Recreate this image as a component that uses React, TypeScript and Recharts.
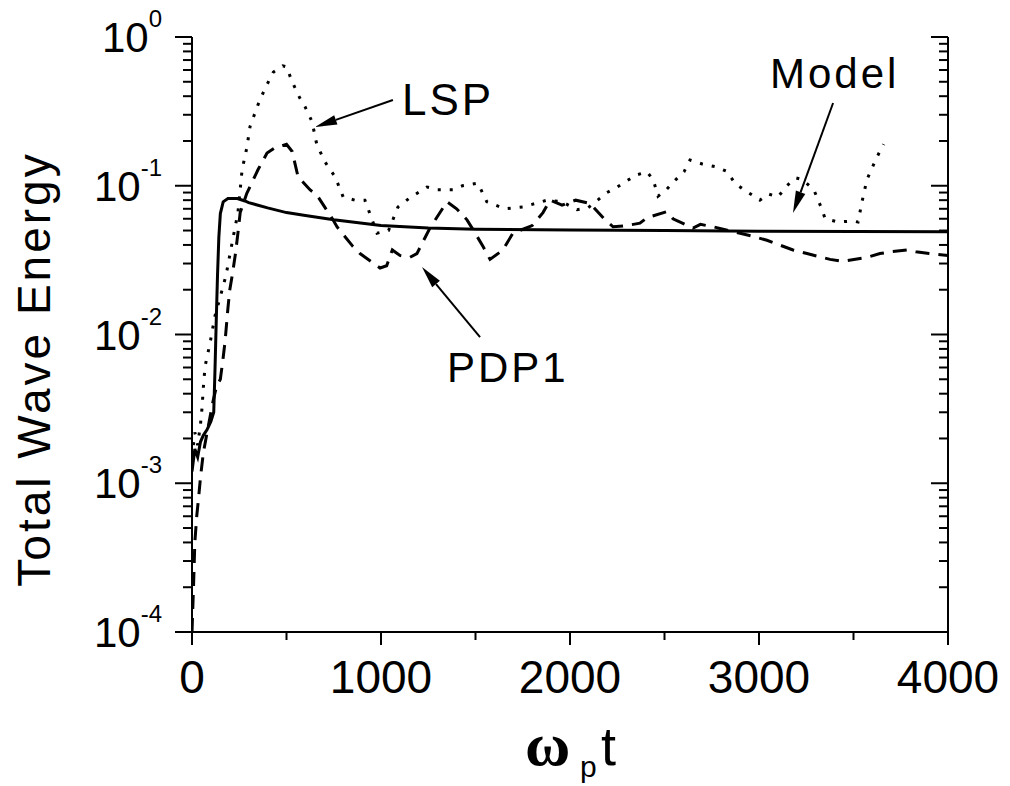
import { LineChart, Line, XAxis, YAxis, ReferenceLine, ReferenceDot } from "recharts";

const FONT = "Liberation Sans, Arial, sans-serif";
const INK = "#000";

// Model (solid)
const T_MODEL = [0, 15, 30, 45, 60, 80, 100, 115, 122, 128, 135, 142, 150, 165, 190, 240, 280, 300, 400, 500, 600, 750, 1000, 1250, 1500, 2000, 2500, 3000, 4000];
const E_MODEL = [1.2e-3, 1.7e-3, 1.5e-3, 1.9e-3, 2.1e-3, 2.3e-3, 2.6e-3, 3.0e-3, 6e-3, 0.012, 0.025, 0.045, 0.065, 0.078, 0.082, 0.082, 0.079, 0.077, 0.071, 0.066, 0.063, 0.059, 0.054, 0.052, 0.051, 0.0505, 0.05, 0.0495, 0.049];

// PDP1 (dashed)
const T_PDP1 = [0, 8, 15, 25, 35, 45, 60, 80, 110, 130, 150, 165, 175, 190, 200, 215, 230, 243, 255, 290, 349, 397, 439, 500, 530, 561, 624, 660, 746, 767, 852, 889, 995, 1030, 1060, 1100, 1153, 1190, 1259, 1349, 1400, 1455, 1490, 1540, 1577, 1645, 1698, 1800, 1857, 1894, 1958, 2030, 2106, 2180, 2228, 2300, 2370, 2407, 2513, 2545, 2651, 2690, 2756, 2810, 2960, 3042, 3180, 3254, 3376, 3444, 3571, 3640, 3700, 3783, 3830, 3900, 4000];
const E_PDP1 = [1.0e-4, 2e-4, 4e-4, 6e-4, 8e-4, 1.1e-3, 1.6e-3, 2.2e-3, 3.5e-3, 4.5e-3, 5e-3, 7e-3, 9e-3, 0.015, 0.02, 0.026, 0.035, 0.048, 0.066, 0.089, 0.128, 0.166, 0.18, 0.19, 0.17, 0.115, 0.094, 0.087, 0.059, 0.053, 0.039, 0.035, 0.028, 0.029, 0.037, 0.034, 0.033, 0.035, 0.052, 0.078, 0.07, 0.059, 0.05, 0.039, 0.032, 0.037, 0.048, 0.054, 0.066, 0.08, 0.074, 0.08, 0.076, 0.06, 0.053, 0.054, 0.056, 0.061, 0.067, 0.06, 0.052, 0.055, 0.053, 0.051, 0.046, 0.043, 0.037, 0.035, 0.032, 0.031, 0.033, 0.035, 0.036, 0.037, 0.036, 0.035, 0.034];

// LSP (dotted)
const T_LSP = [0, 15, 30, 45, 53, 60, 69, 95, 122, 150, 180, 210, 243, 265, 290, 307, 349, 386, 430, 480, 500, 530, 570, 598, 635, 660, 703, 757, 800, 862, 915, 979, 1040, 1090, 1153, 1243, 1300, 1380, 1430, 1513, 1560, 1656, 1751, 1878, 1958, 2037, 2095, 2196, 2250, 2349, 2407, 2440, 2466, 2513, 2560, 2603, 2635, 2700, 2772, 2830, 2873, 2920, 2980, 3005, 3050, 3100, 3148, 3195, 3230, 3290, 3330, 3350, 3418, 3497, 3524, 3545, 3571, 3624, 3660];
const E_LSP = [1.5e-3, 2.2e-3, 1.8e-3, 2.5e-3, 3.2e-3, 4.4e-3, 6.1e-3, 8.7e-3, 0.0134, 0.018, 0.025, 0.04, 0.066, 0.128, 0.18, 0.25, 0.35, 0.45, 0.58, 0.64, 0.63, 0.5, 0.39, 0.34, 0.27, 0.19, 0.145, 0.115, 0.084, 0.08, 0.08, 0.048, 0.05, 0.072, 0.083, 0.098, 0.094, 0.094, 0.1, 0.104, 0.078, 0.07, 0.072, 0.08, 0.078, 0.069, 0.071, 0.09, 0.098, 0.118, 0.124, 0.11, 0.085, 0.095, 0.11, 0.124, 0.149, 0.14, 0.134, 0.125, 0.104, 0.094, 0.084, 0.08, 0.088, 0.084, 0.1, 0.113, 0.11, 0.094, 0.071, 0.06, 0.057, 0.058, 0.057, 0.078, 0.11, 0.156, 0.19];

const X_TICKS = [0, 500, 1000, 1500, 2000, 2500, 3000, 3500, 4000];
const Y_MAJOR = [1e-4, 1e-3, 1e-2, 1e-1, 1];
const Y_MINOR = [2, 3, 4, 5, 6, 7, 8, 9].flatMap((m) => [1e-4, 1e-3, 1e-2, 1e-1].map((d) => m * d));
const Y_TICKS = [...Y_MAJOR, ...Y_MINOR].sort((a, b) => a - b);

const toRows = (ts: number[], es: number[]) => ts.map((t, i) => ({ t, e: es[i] }));
const modelData = toRows(T_MODEL, E_MODEL);
const pdp1Data = toRows(T_PDP1, E_PDP1);
const lspData = toRows(T_LSP, E_LSP);

function decade(v: number) {
  const l = Math.log10(v);
  const n = Math.round(l);
  return { n, major: Math.abs(l - n) < 1e-6 };
}

function LeftTick(props: any) {
  const { x, y, payload } = props;
  const { n, major } = decade(payload.value);
  return (
    <g>
      <line x1={x - (major ? 17 : 9)} y1={y} x2={x} y2={y} stroke={INK} strokeWidth={2} />
      {major && (
        <text x={x - 30} y={y} textAnchor="end" fontFamily={FONT} fill={INK}>
          <tspan fontSize={42} dy={15}>10</tspan>
          <tspan fontSize={24} dy={-25}>{String(n)}</tspan>
        </text>
      )}
    </g>
  );
}

function RightTick(props: any) {
  const { x, y, payload } = props;
  const { major } = decade(payload.value);
  return <line x1={x - (major ? 17 : 9)} y1={y} x2={x} y2={y} stroke={INK} strokeWidth={2} />;
}

function BottomTick(props: any) {
  const { x, y, payload } = props;
  const major = payload.value % 1000 === 0;
  return (
    <g>
      <line x1={x} y1={y} x2={x} y2={y + (major ? 13 : 8)} stroke={INK} strokeWidth={2} />
      {major && (
        <text x={x} y={y + 61} textAnchor="middle" fontFamily={FONT} fontSize={46} fill={INK}>
          {payload.value}
        </text>
      )}
    </g>
  );
}

function Arrow(props: any) {
  const { x1, y1, x2, y2 } = props;
  const a = Math.atan2(y2 - y1, x2 - x1);
  const L = 22, W = 5;
  const bx = x2 - L * Math.cos(a), by = y2 - L * Math.sin(a);
  const px = -Math.sin(a) * W, py = Math.cos(a) * W;
  return (
    <g>
      <line x1={x1} y1={y1} x2={bx} y2={by} stroke={INK} strokeWidth={2} />
      <polygon points={`${x2},${y2} ${bx + px},${by + py} ${bx - px},${by - py}`} fill={INK} />
    </g>
  );
}

const note = (txt: string, size: number) => (p: any) => (
  <text x={p.cx} y={p.cy} fontFamily={FONT} fontSize={size} letterSpacing={3} fill={INK}>
    {txt}
  </text>
);

const xLabel = () => (
  <g fill={INK}>
    <text x={525} y={765} fontFamily="Liberation Serif, Times New Roman, serif" fontWeight="bold" fontSize={62}>ω</text>
    <text x={580} y={777} fontFamily={FONT} fontSize={30}>p</text>
    <text x={601} y={765} fontFamily={FONT} fontSize={54}>t</text>
  </g>
);

const yLabel = () => (
  <text x={50} y={369} transform="rotate(-90 50 369)" textAnchor="middle" fontFamily={FONT} fontSize={46} letterSpacing={3} fill={INK}>
    Total Wave Energy
  </text>
);

export default function App() {
  return (
    <div style={{ position: "absolute", left: 0, top: 0, width: 1010, height: 786, background: "#fff" }}>
      <LineChart width={1010} height={786} margin={{ top: 37, right: 52, bottom: 54, left: 0 }}>
        <XAxis
          dataKey="t"
          type="number"
          domain={[0, 4000]}
          ticks={X_TICKS}
          interval={0}
          height={100}
          tickSize={0}
          tickMargin={0}
          tickLine={false}
          tick={BottomTick}
          axisLine={{ stroke: INK, strokeWidth: 2 }}
          allowDataOverflow
          label={{ content: xLabel }}
        />
        <YAxis
          type="number"
          scale="log"
          domain={[1e-4, 1]}
          ticks={Y_TICKS}
          interval={0}
          width={192}
          tickSize={0}
          tickMargin={0}
          tickLine={false}
          tick={LeftTick}
          axisLine={{ stroke: INK, strokeWidth: 2 }}
          allowDataOverflow
          label={{ content: yLabel }}
        />
        <YAxis
          yAxisId="r"
          orientation="right"
          type="number"
          scale="log"
          domain={[1e-4, 1]}
          ticks={Y_TICKS}
          interval={0}
          width={10}
          tickSize={0}
          tickMargin={0}
          tickLine={false}
          tick={RightTick}
          axisLine={{ stroke: INK, strokeWidth: 2 }}
          allowDataOverflow
        />
        <Line data={lspData} dataKey="e" type="linear" stroke={INK} strokeWidth={3} strokeDasharray="3 9" dot={false} isAnimationActive={false} />
        <Line data={pdp1Data} dataKey="e" type="linear" stroke={INK} strokeWidth={3} strokeDasharray="14 9" dot={false} isAnimationActive={false} />
        <Line data={modelData} dataKey="e" type="linear" stroke={INK} strokeWidth={3} dot={false} isAnimationActive={false} />
        <ReferenceLine segment={[{ x: 1063, y: 0.377 }, { x: 651, y: 0.248 }]} shape={Arrow} />
        <ReferenceLine segment={[{ x: 3392, y: 0.36 }, { x: 3180, y: 0.0656 }]} shape={Arrow} />
        <ReferenceLine segment={[{ x: 1524, y: 0.0096 }, { x: 1217, y: 0.0284 }]} shape={Arrow} />
        <ReferenceDot x={1111} y={0.299} r={0} shape={note("LSP", 44)} />
        <ReferenceDot x={3058} y={0.454} r={0} shape={note("Model", 42)} />
        <ReferenceDot x={1349} y={0.0048} r={0} shape={note("PDP1", 42)} />
      </LineChart>
    </div>
  );
}
